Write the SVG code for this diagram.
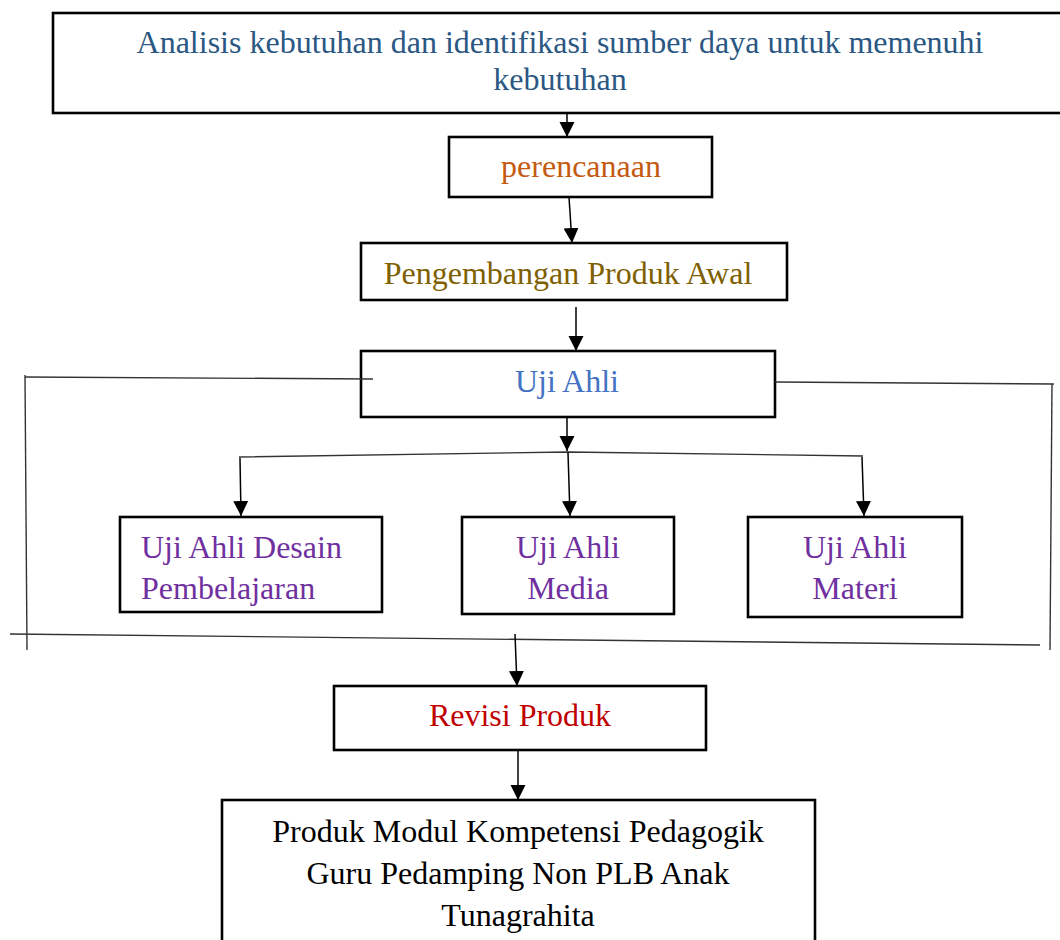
<svg xmlns="http://www.w3.org/2000/svg" width="1060" height="940" viewBox="0 0 1060 940">
<style>
.box{fill:#fff;stroke:#000;stroke-width:2.6}
.t{font-family:"Liberation Serif","Times New Roman",serif;font-size:32px;text-anchor:middle}
.s{text-anchor:start}
.c{stroke:#000;stroke-width:1.5;fill:none}
.b{stroke:#333;stroke-width:1.4;fill:none}
</style>
<defs>
<marker id="ah" markerUnits="userSpaceOnUse" markerWidth="16" markerHeight="16" viewBox="0 0 16 16" refX="15" refY="8" orient="auto">
<path d="M0,0.5 L15,8 L0,15.5 Z" fill="#000"/>
</marker>
</defs>
<rect width="1060" height="940" fill="#fff"/>
<g id="n1"><rect class="box" x="53" y="13" width="1012" height="100"/>
<text class="t" x="560" y="53" fill="#2B5783">Analisis kebutuhan dan identifikasi sumber daya untuk memenuhi</text>
<text class="t" x="560" y="90" fill="#2B5783">kebutuhan</text></g>
<g id="n2"><rect class="box" x="449" y="137" width="263" height="60"/>
<text class="t" x="581" y="177" fill="#C55A11">perencanaan</text></g>
<g id="n3"><rect class="box" x="361" y="243" width="426" height="57"/>
<text class="t" x="568" y="284" fill="#7F6000">Pengembangan Produk Awal</text></g>
<g id="n4"><rect class="box" x="361" y="351" width="414" height="66"/>
<text class="t" x="567" y="392" fill="#4472C4">Uji Ahli</text></g>
<g id="n5"><rect class="box" x="120" y="517" width="262" height="95"/>
<text class="t s" x="141" y="558" fill="#7030A0">Uji Ahli Desain</text>
<text class="t s" x="141" y="599" fill="#7030A0">Pembelajaran</text></g>
<g id="n6"><rect class="box" x="462" y="517" width="212" height="97"/>
<text class="t" x="568" y="558" fill="#7030A0">Uji Ahli</text>
<text class="t" x="568" y="599" fill="#7030A0">Media</text></g>
<g id="n7"><rect class="box" x="748" y="517" width="214" height="100"/>
<text class="t" x="855" y="558" fill="#7030A0">Uji Ahli</text>
<text class="t" x="855" y="599" fill="#7030A0">Materi</text></g>
<g id="n8"><rect class="box" x="334" y="686" width="372" height="64"/>
<text class="t" x="520" y="726" fill="#C00000">Revisi Produk</text></g>
<g id="n9"><rect class="box" x="222" y="800" width="593" height="150"/>
<text class="t" x="518" y="842" fill="#000">Produk Modul Kompetensi Pedagogik</text>
<text class="t" x="518" y="884" fill="#000">Guru Pedamping Non PLB Anak</text>
<text class="t" x="518" y="926" fill="#000">Tunagrahita</text></g>
<g id="connectors">
<line class="c" x1="567" y1="113" x2="567" y2="137" marker-end="url(#ah)"/>
<line class="c" x1="569" y1="197" x2="572" y2="243" marker-end="url(#ah)"/>
<line class="c" x1="576" y1="307" x2="576" y2="351" marker-end="url(#ah)"/>
<line class="c" x1="567" y1="417" x2="567" y2="451" marker-end="url(#ah)"/>
<polyline class="b" points="239,457 568,452 863,456"/>
<line class="c" x1="240" y1="458" x2="241" y2="516" marker-end="url(#ah)"/>
<line class="c" x1="568" y1="452" x2="570" y2="516" marker-end="url(#ah)"/>
<line class="c" x1="862" y1="457" x2="864" y2="516" marker-end="url(#ah)"/>
<line class="b" x1="25" y1="377" x2="373" y2="379"/>
<line class="b" x1="25" y1="375" x2="27" y2="650"/>
<line class="b" x1="775" y1="382" x2="1054" y2="384"/>
<line class="b" x1="1052" y1="384" x2="1050" y2="650"/>
<line class="b" x1="10" y1="634" x2="1040" y2="645"/>
<line class="c" x1="515" y1="634" x2="517" y2="686" marker-end="url(#ah)"/>
<line class="c" x1="518" y1="750" x2="518" y2="800" marker-end="url(#ah)"/>
</g>
</svg>
